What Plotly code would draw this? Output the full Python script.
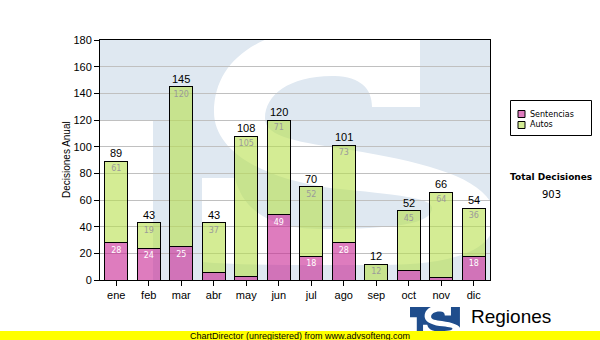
import plotly.graph_objects as go

# ---- data ----
months = ["ene", "feb", "mar", "abr", "may", "jun", "jul", "ago", "sep", "oct", "nov", "dic"]
sentencias = [28, 24, 25, 6, 3, 49, 18, 28, 0, 7, 2, 18]
autos = [61, 19, 120, 37, 105, 71, 52, 73, 12, 45, 64, 36]
series_names = ["Sentencias", "Autos"]
y_title = "Decisiones Anual"
total_title = "Total Decisiones"
brand_name = "Regiones"
footer_text = "ChartDirector (unregistered) from www.advsofteng.com"

totals = [s + a for s, a in zip(sentencias, autos)]
grand_total = sum(totals)

# ---- styling ----
W, H = 600, 340
L, R, T, B = 100, 110, 40, 60
PW, PH = W - L - R, H - T - B
Y_MAX = 180
PINK = "rgba(200,37,147,0.6)"
GREEN = "rgba(183,223,77,0.6)"
WASH = "#dfe8f1"
LOGO_BLUE = "#1f4d8c"
SANS = "Liberation Sans, Arial, sans-serif"
VERD = "DejaVu Sans, Verdana, sans-serif"


def to_data(px, py):
    """pixel position on the page -> data coordinates of the plot"""
    return (px - L) / (PW / len(months)) - 0.5, (T + PH - py) * Y_MAX / PH


def to_paper(px, py):
    return (px - L) / PW, (T + PH - py) / PH


def build_path(cmds, conv):
    out = []
    for c in cmds:
        op, pts = c[0], c[1:]
        if op == "Z":
            out.append("Z")
            continue
        coords = " ".join("%.4f,%.4f" % conv(*p) for p in pts)
        out.append(op + " " + coords)
    return " ".join(out)


# "TS" emblem outline, drawn in page pixels
T_BLOCK = [("M", (100, 40)), ("L", (490, 40)), ("L", (490, 280)), ("L", (153, 280)),
           ("L", (153, 120)), ("L", (100, 120)), ("Z",)]
S_GLYPH = [
    ("M", (420, 107)),
    ("L", (372, 107)),
    ("C", (372, 88), (360, 77), (335, 76)),
    ("C", (290, 75), (265, 95), (265, 118)),
    ("C", (265, 138), (300, 142), (350, 150)),
    ("C", (430, 163), (495, 180), (495, 218)),
    ("C", (495, 250), (455, 265), (380, 265)),
    ("C", (320, 265), (250, 266), (202, 262)),
    ("L", (202, 178)),
    ("L", (235, 178)),
    ("C", (242, 208), (268, 229), (320, 229)),
    ("C", (395, 229), (432, 224), (432, 208)),
    ("C", (432, 198), (400, 195), (330, 188)),
    ("C", (260, 178), (214, 150), (214, 112)),
    ("C", (214, 60), (260, 28), (335, 26)),
    ("C", (380, 25), (405, 30), (420, 35)),
    ("Z",),
]

shapes = [
    dict(type="path", xref="x", yref="y", layer="below", path=build_path(T_BLOCK, to_data),
         fillcolor=WASH, line=dict(width=0)),
    dict(type="path", xref="x", yref="y", layer="below", path=build_path(S_GLYPH, to_data),
         fillcolor="white", line=dict(width=0)),
]


# small emblem at the bottom right
def logo_conv(px, py):
    s = 0.128
    return to_paper(410 + (px - 100) * s, 307 + (py - 40) * s)


shapes += [
    dict(type="path", xref="paper", yref="paper", path=build_path(T_BLOCK, logo_conv),
         fillcolor=LOGO_BLUE, line=dict(width=0)),
    dict(type="path", xref="paper", yref="paper", path=build_path(S_GLYPH, logo_conv),
         fillcolor="white", line=dict(width=0)),
]

# footer band
fx0, fy0 = to_paper(0, 331)
fx1, fy1 = to_paper(W, H)
shapes.append(dict(type="rect", xref="paper", yref="paper", x0=fx0, x1=fx1, y0=fy1, y1=fy0,
                   fillcolor="#ffff00", line=dict(width=0)))

# legend box
lx0, ly0 = to_paper(510.5, 100.5)
lx1, ly1 = to_paper(591.5, 135.5)
shapes.append(dict(type="rect", xref="paper", yref="paper", x0=lx0, x1=lx1, y0=ly1, y1=ly0,
                   fillcolor="white", line=dict(color="black", width=1)))

annotations = []
for i, (name, col) in enumerate(zip(series_names, [PINK, GREEN])):
    cy = 114 + i * 11
    sx0, sy0 = to_paper(518, cy - 3.5)
    sx1, sy1 = to_paper(525, cy + 3.5)
    shapes.append(dict(type="rect", xref="paper", yref="paper", x0=sx0, x1=sx1, y0=sy1, y1=sy0,
                       fillcolor=col, line=dict(color="black", width=1)))
    tx, ty = to_paper(527.5, cy)
    annotations.append(dict(xref="paper", yref="paper", x=tx, y=ty, text=name, showarrow=False,
                            xanchor="left", yanchor="middle", font=dict(family=VERD, size=8, color="black")))

# totals above each stacked column
for i, t in enumerate(totals):
    annotations.append(dict(x=i, y=t, xref="x", yref="y", text=str(t), showarrow=False,
                            yanchor="bottom", font=dict(family=SANS, size=11, color="black")))

# axis title
ax, ay = to_paper(66, 160)
annotations.append(dict(xref="paper", yref="paper", x=ax, y=ay, text=y_title, textangle=-90,
                        showarrow=False, xanchor="center", yanchor="middle",
                        font=dict(family=SANS, size=10, color="black")))

# grand total block
gx, gy = to_paper(551, 177)
annotations.append(dict(xref="paper", yref="paper", x=gx, y=gy, text="<b>%s</b>" % total_title,
                        showarrow=False, xanchor="center", yanchor="middle",
                        font=dict(family=VERD, size=9, color="black")))
gx, gy = to_paper(551, 194)
annotations.append(dict(xref="paper", yref="paper", x=gx, y=gy, text=str(grand_total),
                        showarrow=False, xanchor="center", yanchor="middle",
                        font=dict(family=VERD, size=10, color="black")))

# brand name and footer
bx, by = to_paper(469, 316)
annotations.append(dict(xref="paper", yref="paper", x=bx, y=by, text=brand_name, showarrow=False,
                        xanchor="left", yanchor="middle", font=dict(family=SANS, size=19, color="black")))
fx, fy = to_paper(300, 335.5)
annotations.append(dict(xref="paper", yref="paper", x=fx, y=fy, text=footer_text, showarrow=False,
                        xanchor="center", yanchor="middle", font=dict(family=SANS, size=9, color="black")))


def inner_labels(vals):
    return [str(v) if v >= 10 else "" for v in vals]


xs = list(range(len(months)))
fig = go.Figure()
fig.add_bar(x=xs, y=sentencias, name=series_names[0], width=0.72,
            marker=dict(color=PINK, line=dict(color="black", width=1)),
            text=inner_labels(sentencias), textposition="inside", insidetextanchor="end",
            textangle=0, insidetextfont=dict(family=VERD, size=8, color="white"),
            hoverinfo="skip", showlegend=False)
fig.add_bar(x=xs, y=autos, name=series_names[1], width=0.72,
            marker=dict(color=GREEN, line=dict(color="black", width=1)),
            text=inner_labels(autos), textposition="inside", insidetextanchor="end",
            textangle=0, insidetextfont=dict(family=VERD, size=8, color="#9a9a9a"),
            hoverinfo="skip", showlegend=False)

fig.update_layout(
    width=W, height=H, margin=dict(l=L, r=R, t=T, b=B, pad=0),
    barmode="stack", paper_bgcolor="white", plot_bgcolor="white",
    font=dict(family=SANS, size=11, color="black"),
    shapes=shapes, annotations=annotations, showlegend=False,
    xaxis=dict(range=[-0.5, len(months) - 0.5], tickvals=xs, ticktext=months,
               showline=True, linecolor="black", linewidth=1, mirror=True,
               ticks="outside", ticklen=5, tickcolor="black", showgrid=False,
               zeroline=False, fixedrange=True, tickfont=dict(size=11)),
    yaxis=dict(range=[0, Y_MAX], dtick=20, showline=True, linecolor="black", linewidth=1,
               mirror=True, ticks="outside", ticklen=5, tickcolor="black",
               showgrid=True, gridcolor="#c0c0c0", gridwidth=1, zeroline=False,
               fixedrange=True, tickfont=dict(size=11)),
)

fig.write_html("out.html")
